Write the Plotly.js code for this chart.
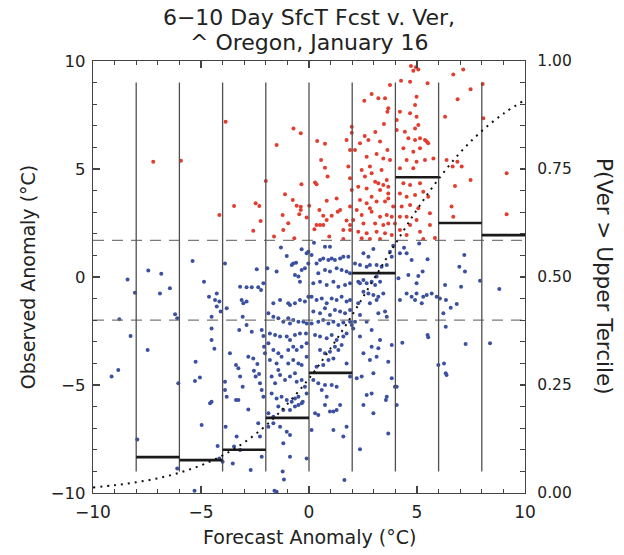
<!DOCTYPE html>
<html>
<head>
<meta charset="utf-8">
<script src="https://cdn.plot.ly/plotly-3.0.1.min.js"></script>
<style>html,body{margin:0;padding:0;background:#fff;}#chart{width:624px;height:555px;}</style>
</head>
<body>
<div id="chart"></div>
<script>
// Forecast anomaly (x) and observed anomaly (y), degC
const fcstAnom = [
  -9.14,-8.83,-8.78,-8.40,-8.26,-8.06,-7.95,
  -7.44,-6.84,-6.90,-6.44,-7.47,-6.20,-6.10,-6.05,-6.10,-7.21,-5.93,
  -5.39,-4.86,-5.25,-5.28,-5.05,-4.97,-4.58,-4.51,-4.63,-4.35,-4.27,-4.15,-4.27,-4.09,-4.51,-4.51,-4.38,-4.23,-4.15,-4.51,-4.00,-5.30,-4.15,
  -3.89,-3.81,-3.66,-3.89,-3.89,-3.81,-3.86,-3.19,-2.89,-2.65,-3.12,-3.04,-2.89,-3.07,-3.23,-3.38,-3.27,-3.19,-3.07,-3.38,-2.81,-2.81,-2.58,-2.55,-2.47,-2.39,-2.42,-2.35,-2.22,-2.11,-2.19,-2.11,-2.08,-2.04,-2.31,-2.27,-2.19,-2.11,-2.35,-2.27,-2.19,-2.70,-3.35,-3.47,-3.53,-3.19,-3.27,-2.65,-2.89,
  -3.86,-3.47,-2.00,-2.47,-2.30,-2.24,-2.58,
  -1.50,-1.03,-0.73,-0.80,-0.65,-0.49,-0.42,-0.11,-0.03,-0.34,
  -1.65,-1.34,-0.96,-0.88,-0.65,-0.42,-0.19,-0.03,
  -1.88,-1.65,-1.42,-1.19,-0.96,-0.88,-0.73,-0.49,-0.26,-0.11,
  -1.81,-1.57,-1.34,-1.03,-0.88,-0.65,-0.42,-0.14,
  -1.88,-1.65,-1.42,-1.27,-0.96,-0.73,-0.57,-0.34,-0.11,
  -1.81,-1.50,-1.42,-0.96,-0.73,-0.49,-0.34,-0.11,
  -1.73,-1.57,-1.34,-1.11,-0.88,-0.65,-0.57,-0.34,-0.19,
  -1.73,-1.50,-1.27,-1.03,-0.80,-0.65,-0.49,-0.29,-0.11,
  -1.88,-1.65,-1.42,-1.19,-0.88,-0.65,-0.49,-0.34,
  -1.88,-1.65,-1.34,-1.03,-0.88,-1.19,-0.88,-1.22,-1.16,-1.50,-0.11,-1.60,
  -1.93,-1.30,-0.60,-0.34,-0.19,-0.03,
  -1.50,-1.62,-1.11,-1.22,-0.96,-1.19,-0.72,-0.38,-0.75,-0.57,-0.38,-0.38,-0.45,-0.68,-0.35,-0.11,
  0.01,0.38,0.74,0.56,0.74,0.86,0.28,0.35,0.82,0.48,0.66,1.05,0.82,0.35,0.51,0.66,0.25,0.94,1.28,1.33,
  1.98,1.98,1.74,1.90,1.82,1.90,1.98,1.90,1.90,1.59,1.74,1.90,1.59,1.44,
  0.12,0.35,0.51,0.66,0.90,1.05,1.20,1.44,1.59,1.82,
  0.43,0.74,0.97,1.28,1.51,1.74,1.90,
  0.20,0.51,0.82,1.13,1.36,1.67,1.90,
  0.12,0.35,0.59,0.82,1.05,1.28,1.51,1.74,1.90,
  0.20,0.51,0.74,0.97,1.20,1.44,1.67,1.90,
  0.12,0.43,0.66,0.90,1.13,1.36,1.59,1.90,1.98,
  0.28,0.51,0.82,1.05,1.28,1.59,1.74,
  0.51,0.74,0.97,1.20,1.36,1.51,0.90,1.13,0.66,0.35,1.74,
  0.20,0.43,0.59,0.74,1.05,1.28,0.82,0.74,0.97,1.13,1.28,1.44,0.43,0.28,0.12,1.13,1.59,1.74,1.90,1.64,
  0.23,0.74,0.97,
  2.13,2.36,2.67,2.82,3.13,3.36,3.60,3.83,3.75,2.52,2.75,
  2.28,2.52,2.67,2.90,2.36,3.06,3.29,3.13,2.52,2.75,2.98,3.21,3.44,2.28,2.82,3.13,3.52,2.36,3.21,3.60,2.67,2.90,2.13,2.05,2.36,3.29,3.83,2.90,3.21,2.52,3.13,2.82,3.67,2.44,2.21,2.98,3.83,2.67,2.90,2.52,2.98,3.60,3.56,3.98,3.67,2.36,2.98,3.90,
  2.90,2.56,3.21,3.52,3.67,3.63,3.75,3.47,3.07,2.58,2.75,3.29,3.63,3.44,3.13,3.75,2.36,2.13,2.67,2.82,2.44,2.90,3.36,3.60,3.06,3.21,3.44,3.67,2.59,2.28,2.67,3.29,3.67,2.90,2.36,2.67,3.13,3.52,3.67,2.82,2.90,2.44,3.29,3.60,3.83,2.52,3.06,3.44,3.67,2.28,2.67,3.13,3.52,3.83,2.44,2.82,3.29,2.21,3.90,3.98,2.05,
  4.26,4.68,4.95,4.83,5.06,4.72,5.49,4.98,4.91,4.21,4.68,4.98,5.06,4.91,4.06,4.44,4.60,4.91,5.14,5.37,5.45,4.37,4.83,5.14,5.52,4.52,4.21,4.83,4.98,5.37,5.76,4.37,4.68,5.14,4.21,4.52,4.91,5.29,5.52,4.29,4.68,5.06,5.60,4.21,4.52,4.98,4.21,4.68,5.14,5.60,5.83,4.52,5.29,4.06,
  4.21,4.52,4.75,5.49,4.60,5.06,5.26,4.52,4.75,4.91,4.98,5.22,5.29,5.45,5.68,5.91,4.21,4.32,5.49,5.52,4.06,4.06,4.14,4.98,4.40,5.10,
  7.19,6.96,7.22,6.30,6.06,6.34,6.56,6.84,7.04,6.22,6.33,5.99,6.25,6.33,6.37,7.25,7.92,
  6.30,6.37,6.65,6.87,7.07,6.76,6.60,6.68,7.48,6.88,6.68,7.14,7.48,
  8.81,8.38,8.04,8.07,9.15,9.15
];
const obsAnom = [
  -4.61,-4.31,-1.96,-0.11,-2.73,-0.73,-7.52,
  0.30,0.15,-0.76,-0.52,-3.38,-1.73,-1.91,-4.92,-8.86,5.34,5.38,
  0.74,-0.22,-3.92,-4.81,-4.65,-6.85,-5.85,-5.77,-0.91,-1.06,-0.76,-1.14,-1.37,-1.60,-2.38,-2.92,-3.32,-7.82,-8.40,-1.84,-8.55,-9.90,2.87,
  0.63,-1.45,-3.53,-4.85,-5.23,-5.54,-6.93,-0.45,-0.48,-0.48,-1.06,-1.22,-1.14,-1.84,-2.45,-4.07,-4.23,-4.61,-5.08,-5.69,-3.69,-6.13,-3.77,-4.34,-4.61,-4.03,0.36,-0.48,-0.60,-0.29,-2.45,-2.73,-3.23,-3.53,-4.49,-4.92,-5.23,-5.54,-6.77,-7.39,-8.32,-8.94,-7.39,-7.85,-8.63,-8.01,-5.69,-2.53,-2.22,
  7.19,3.29,4.44,3.41,3.29,2.59,2.14,
  0.25,0.97,0.63,0.56,0.09,0.02,-0.22,1.10,0.63,0.32,
  -1.22,-1.06,-1.22,-1.30,-1.22,-1.06,-1.14,-0.91,
  -1.68,-1.84,-1.91,-2.07,-1.91,-2.15,-1.99,-2.07,-2.07,-2.15,
  -2.61,-2.69,-2.76,-2.76,-2.92,-2.69,-2.61,-2.61,
  -3.07,-3.38,-3.53,-3.69,-3.38,-3.23,-3.38,-3.23,-3.07,
  -3.84,-4.00,-4.31,-4.00,-3.84,-4.00,-4.07,-3.69,
  -4.61,-4.92,-4.54,-4.77,-4.61,-4.46,-4.85,-4.77,-5.08,
  -5.39,-5.62,-5.54,-5.69,-5.77,-5.62,-5.54,-5.77,-5.39,
  -6.31,-6.47,-6.00,-6.16,-6.16,-6.00,-5.93,-5.85,
  -6.93,-6.77,-6.93,-7.16,-7.31,-7.70,-8.32,-9.01,-9.37,-9.94,-8.40,-9.90,
  0.40,1.37,0.66,1.28,0.40,1.17,
  6.11,1.87,3.83,2.87,2.49,2.18,6.87,6.65,3.56,3.30,3.25,3.10,2.90,1.79,4.29,2.75,
  3.30,6.30,6.17,5.42,5.06,4.65,4.37,4.29,3.53,3.10,2.84,2.84,2.64,2.41,2.41,2.41,2.21,1.87,3.64,3.02,
  6.96,6.68,6.34,5.88,5.11,4.57,4.03,3.26,2.18,2.18,2.61,2.41,1.76,3.10,
  1.02,0.63,0.79,0.86,0.79,0.86,0.79,0.86,0.94,0.94,
  0.17,0.32,0.25,0.40,0.32,0.25,0.17,
  -0.29,-0.22,-0.37,-0.22,-0.45,-0.37,-0.29,
  -0.91,-1.06,-0.99,-1.22,-0.99,-1.06,-0.91,-1.14,-1.06,
  -1.60,-1.68,-1.45,-1.76,-1.53,-1.60,-1.68,-1.53,
  -2.15,-2.07,-1.99,-2.15,-2.07,-2.22,-2.11,-2.07,-2.22,
  -2.69,-2.76,-2.84,-2.69,-2.92,-2.76,-2.61,
  -3.38,-3.53,-3.46,-3.23,-3.38,-3.15,-3.84,-3.77,-4.07,-4.15,-4.00,
  -4.77,-4.92,-5.23,-5.00,-5.00,-5.08,-5.54,-5.93,-6.23,-6.23,-6.16,-5.93,-6.39,-6.31,-7.08,-7.08,-7.39,-6.93,-4.61,-9.40,
  1.59,1.40,1.40,
  0.63,0.56,0.48,0.56,0.56,0.48,0.56,0.94,1.17,1.10,0.94,
  -0.22,-0.14,-0.29,-0.22,-0.29,-0.37,-0.22,0.02,-0.68,-0.76,-0.83,-0.91,-0.76,-1.22,-1.22,-1.06,-1.60,-1.76,-1.68,-1.84,-2.07,-2.45,-2.07,-2.38,-2.76,-2.92,-3.15,-3.23,-3.30,-3.53,-3.69,-3.84,-3.92,-4.61,-4.69,-4.46,-4.69,-5.46,-5.39,-5.93,-6.31,-5.54,-5.69,-5.08,-7.24,-7.98,1.30,1.45,
  8.47,8.16,8.27,8.27,7.81,7.65,8.89,7.08,6.71,6.53,6.34,6.27,5.88,5.49,5.69,5.42,6.19,5.88,5.57,5.11,4.95,4.80,4.95,4.49,4.41,4.34,4.26,4.18,4.65,4.18,4.10,4.03,3.87,3.72,3.56,3.41,3.49,3.49,3.64,3.18,3.02,2.87,2.79,2.87,2.79,2.48,2.48,2.41,2.48,2.10,2.02,2.10,2.02,1.94,1.79,1.76,1.76,3.10,3.26,2.48,2.64,
  9.09,9.04,9.71,9.55,9.61,9.77,8.97,8.35,7.96,7.65,7.58,7.42,7.04,6.88,6.81,6.73,6.42,6.34,6.42,6.34,6.27,5.96,5.80,5.96,6.19,5.42,5.03,5.03,5.34,5.42,5.49,4.34,4.26,4.34,3.87,3.72,3.80,3.95,3.72,3.26,3.33,3.18,2.95,2.79,2.79,2.64,2.18,2.41,2.10,2.41,1.80,1.94,1.76,7.27,
  1.10,1.10,0.79,0.82,0.09,0.05,0.25,-0.76,-0.91,-1.06,-0.76,-1.22,-0.91,-0.83,-0.76,-0.91,-1.06,-3.04,-2.69,-2.79,-5.08,-5.93,-0.06,-0.29,1.35,1.55,
  1.02,0.48,0.25,-0.37,-0.99,-1.06,-1.42,-1.25,-0.45,-1.68,-2.30,-4.07,-4.00,-4.46,-4.54,-3.10,-0.17,
  7.42,5.42,5.11,5.34,5.11,4.21,3.26,2.79,4.49,8.23,9.38,9.61,8.69,
  -0.56,-3.07,8.94,7.35,4.80,2.90
];

// Terciles of observed anomaly (degC)
const upperTercile = 1.7;
const lowerTercile = -2.0;

// Forecast bins and observed frequency P(Ver > Upper Tercile) per bin
const binLow  = [-8, -6, -4, -2, 0, 2, 4, 6, 8];
const binHigh = [-6, -4, -2, 0, 2, 4, 6, 8, 10];
const binProb = [0.083, 0.076, 0.100, 0.174, 0.278, 0.509, 0.731, 0.625, 0.597];

// Bin separator lines: x positions and their vertical extent (degC)
const dividerX = [-8, -6, -4, -2, 0, 2, 4, 6, 8];
const dividerBottom = -9;
const dividerTop = 9;

// Fitted probability curve
const curveX = [-10,-9,-8,-7,-6,-5,-4,-3,-2,-1,0,1,2,3,4,5,6,7,8,9,10];
const curveP = [0.013,0.018,0.025,0.034,0.047,0.064,0.087,0.117,0.156,0.206,0.265,0.335,0.412,0.495,0.577,0.656,0.727,0.788,0.838,0.878,0.910];

// Text
const titleLine1 = '6\u221210 Day SfcT Fcst v. Ver,';
const titleLine2 = '^ Oregon, January 16';
const xTitle = 'Forecast Anomaly (°C)';
const yTitle = 'Observed Anomaly (°C)';
const y2Title = 'P(Ver > Upper Tercile)';

const RED = '#e23d2e', BLUE = '#3b50a0';
const colors = obsAnom.map(v => v > upperTercile ? RED : BLUE);

const divX = [], divY = [];
dividerX.forEach(x => { divX.push(x, x, null); divY.push(dividerBottom, dividerTop, null); });
const barX = [], barY = [];
binLow.forEach((lo, i) => { barX.push(lo, binHigh[i], null); barY.push(binProb[i], binProb[i], null); });

const traces = [
  {type:'scatter', mode:'markers', x:fcstAnom, y:obsAnom, marker:{color:colors, size:4}, hoverinfo:'x+y'},
  {type:'scatter', mode:'lines', x:[-10,10], y:[upperTercile,upperTercile], line:{color:'#7a7a7a', width:1.3, dash:'11px,8px'}},
  {type:'scatter', mode:'lines', x:[-10,10], y:[lowerTercile,lowerTercile], line:{color:'#7a7a7a', width:1.3, dash:'11px,8px'}},
  {type:'scatter', mode:'lines', x:divX, y:divY, line:{color:'#505050', width:1.3}},
  {type:'scatter', mode:'lines', x:barX, y:barY, yaxis:'y2', line:{color:'#1a1a1a', width:2.6}},
  {type:'scatter', mode:'lines', x:curveX, y:curveP, yaxis:'y2', line:{color:'#111', width:2, dash:'2px,5px', shape:'spline'}}
];

const FONT = 'DejaVu Sans, Verdana, sans-serif';
const TXT = '#222';
const axisCommon = {
  showgrid:false, zeroline:false, showline:true, linecolor:'#444', linewidth:1.2,
  ticks:'inside', tickcolor:'#444', tickwidth:1.1, fixedrange:true
};

const layout = {
  width:624, height:555,
  margin:{l:93, r:99, t:61, b:62},
  paper_bgcolor:'#fff', plot_bgcolor:'#fff',
  showlegend:false,
  font:{family:FONT, color:TXT},
  title:{text:titleLine1, x:0.5, xref:'paper', xanchor:'center',
         y:1 - 17/555, yref:'container', yanchor:'middle', font:{family:FONT, size:22, color:TXT}},
  xaxis:Object.assign({}, axisCommon, {
    range:[-10,10], tickvals:[-10,-5,0,5,10], ticklen:7, mirror:'ticks',
    minor:{dtick:1, ticklen:4, ticks:'inside', tickcolor:'#444'},
    tickfont:{size:17, family:FONT, color:TXT}, ticklabelstandoff:3
  }),
  yaxis:Object.assign({}, axisCommon, {
    range:[-10,10], tickvals:[-10,-5,0,5,10], ticklen:7, mirror:false,
    minor:{dtick:1, ticklen:4, ticks:'inside', tickcolor:'#444'},
    tickfont:{size:16.5, family:FONT, color:TXT}, ticklabelstandoff:3
  }),
  yaxis2:Object.assign({}, axisCommon, {
    overlaying:'y', side:'right', range:[0,1],
    tickvals:[0,0.25,0.5,0.75,1], ticktext:['0.00','0.25','0.50','0.75','1.00'], ticklen:5,
    minor:{dtick:0.05, ticklen:5, ticks:'inside', tickcolor:'#444'},
    tickfont:{size:15.5, family:FONT, color:TXT}, ticklabelstandoff:8
  }),
  annotations:[
    {text:titleLine2, xref:'paper', yref:'paper', x:0.5, y:(493-42)/432, xanchor:'center', yanchor:'middle',
     showarrow:false, font:{size:22, family:FONT, color:TXT}},
    {text:xTitle, xref:'paper', yref:'paper', x:0.5, y:-0.102, xanchor:'center', yanchor:'middle',
     showarrow:false, font:{size:19, family:FONT, color:TXT}},
    {text:yTitle, xref:'paper', yref:'paper', x:-0.150, y:0.5, xanchor:'center', yanchor:'middle',
     textangle:-90, showarrow:false, font:{size:19, family:FONT, color:TXT}},
    {text:y2Title, xref:'paper', yref:'paper', x:1.185, y:0.5, xanchor:'center', yanchor:'middle',
     textangle:90, showarrow:false, font:{size:21.5, family:FONT, color:TXT}}
  ]
};

Plotly.newPlot('chart', traces, layout, {displayModeBar:false, staticPlot:true});
</script>
</body>
</html>
